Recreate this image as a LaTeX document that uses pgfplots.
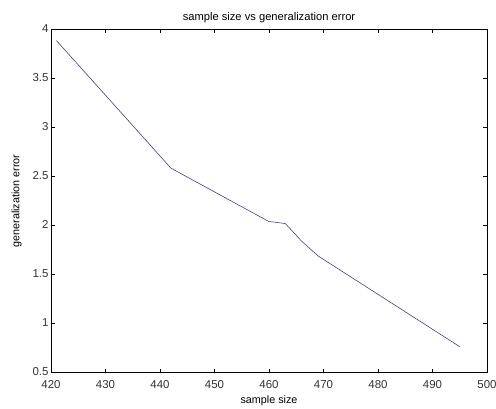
\documentclass[border=0pt]{standalone}
\usepackage{pgfplots}
\pgfplotsset{compat=1.18}
\usepackage{fontspec}
\setmainfont{Liberation Sans}
\definecolor{lineblue}{RGB}{50,50,140}
\begin{document}
\begin{tikzpicture}[x=1bp,y=1bp]
\path[use as bounding box] (0,0) rectangle (496,408);
\begin{axis}[
  at={(51bp,35.3bp)}, anchor=south west,
  scale only axis, width=436bp, height=343.4bp,
  xmin=420, xmax=500, ymin=0.5, ymax=4,
  xtick={420,430,...,500},
  ytick={0.5,1,...,4},
  tick align=inside,
  major tick length=4bp,
  tick style={black, line width=0.5pt},
  axis line style={black, line width=0.6pt},
  /pgf/number format/assume math mode=true,
  /pgf/number format/fixed,
  ticklabel style={font=\fontsize{11.5}{12}\selectfont, text=black!80},
  yticklabel style={xshift=1bp, yshift=1bp},
  xticklabel style={yshift=-4bp},
  title={sample size vs generalization error},
  title style={font=\fontsize{11.2}{12}\selectfont, yshift=-3bp},
  xlabel={sample size},
  ylabel={generalization error},
  label style={font=\fontsize{10.8}{12}\selectfont},
  xlabel style={yshift=-1bp},
  ylabel style={yshift=4bp},
]
\addplot[color=lineblue, line width=0.55pt] coordinates {
  (421,3.885) (442,2.585) (460,2.04) (461,2.035) (463,2.02) (466,1.84) (469,1.69) (495,0.765)
};
\end{axis}
\end{tikzpicture}
\end{document}
